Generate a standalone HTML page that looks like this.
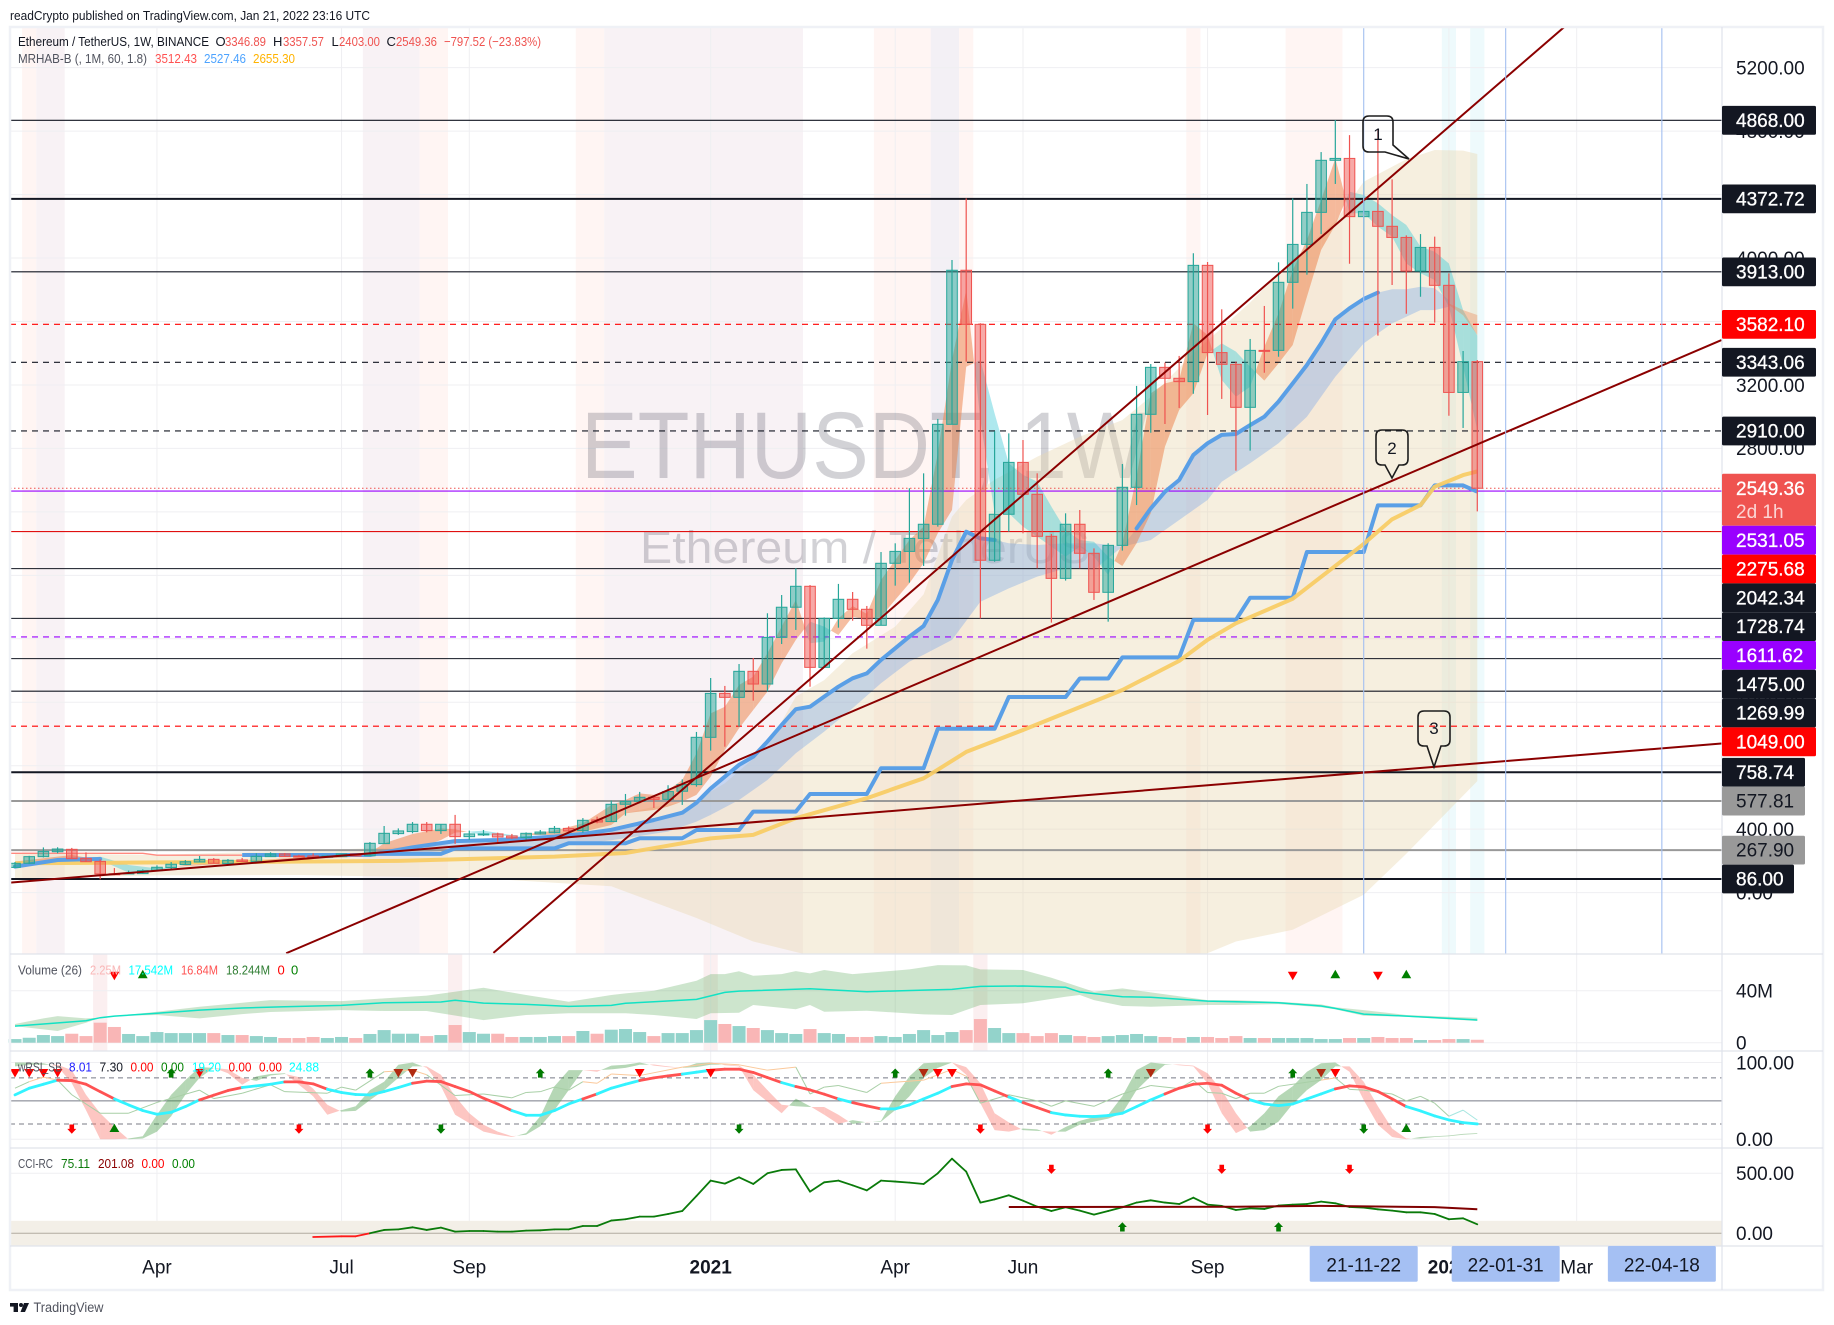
<!DOCTYPE html>
<html lang="en">
<head>
<meta charset="utf-8">
<title>ETHUSDT 1W chart</title>
<style>
html,body{margin:0;padding:0;background:#fff;width:1834px;height:1325px;overflow:hidden}
svg{display:block;font-family:"Liberation Sans",sans-serif}
</style>
</head>
<body>
<svg id="chart" xmlns="http://www.w3.org/2000/svg" width="1834" height="1325" viewBox="0 0 1834 1325">
<defs>
<clipPath id="mainClip"><rect x="10" y="28" width="1712" height="926"/></clipPath>
<clipPath id="paneClip"><rect x="10" y="954" width="1712" height="292"/></clipPath>
</defs>
<rect x="0" y="0" width="1834" height="1325" fill="#ffffff"/>
<text x="10" y="20" font-size="13" fill="#131722" textLength="360" lengthAdjust="spacingAndGlyphs">readCrypto published on TradingView.com, Jan 21, 2022 23:16 UTC</text>

<g id="mainBack" clip-path="url(#mainClip)"></g>
<g id="subBack" clip-path="url(#paneClip)"></g>

<text x="581" y="478" font-size="95" fill="#1c1c32" fill-opacity="0.2" textLength="566" lengthAdjust="spacingAndGlyphs">ETHUSDT, 1W</text>
<text x="640" y="563" font-size="45" fill="#1c1c32" fill-opacity="0.2" textLength="450" lengthAdjust="spacingAndGlyphs">Ethereum / TetherUS</text>

<g id="mainMarks" clip-path="url(#mainClip)"></g>
<g id="volMarks"></g>
<g id="rsiMarks"></g>
<g id="cciMarks"></g>

<g>
<path d="M1369,116 H1387 Q1393,116 1393,122 V145 L1409,159 L1385,152 H1369 Q1363,152 1363,146 V122 Q1363,116 1369,116 Z" fill="none" stroke="#1d1d1d" stroke-width="1.6"/>
<text x="1378" y="140" font-size="17" text-anchor="middle" fill="#131722">1</text>
</g>
<g>
<path d="M1382,430 H1402 Q1408,430 1408,436 V459 Q1408,465 1402,465 H1399 L1392,478 L1385,465 H1382 Q1376,465 1376,459 V436 Q1376,430 1382,430 Z" fill="none" stroke="#1d1d1d" stroke-width="1.6"/>
<text x="1392" y="454" font-size="17" text-anchor="middle" fill="#131722">2</text>
</g>
<g>
<path d="M1424,711 H1444 Q1450,711 1450,717 V740 Q1450,746 1444,746 H1441 L1434,767 L1427,746 H1424 Q1418,746 1418,740 V717 Q1418,711 1424,711 Z" fill="none" stroke="#1d1d1d" stroke-width="1.6"/>
<text x="1434" y="734" font-size="17" text-anchor="middle" fill="#131722">3</text>
</g>

<g id="frame" fill="none">
<rect x="10" y="27" width="1813" height="1263" stroke="#eff1f6" stroke-width="2.5"/>
<line x1="1722" y1="27" x2="1722" y2="1290" stroke="#e0e3eb" stroke-width="1.2"/>
<line x1="10" y1="954" x2="1823" y2="954" stroke="#e0e3eb" stroke-width="1.2"/>
<line x1="10" y1="1051" x2="1823" y2="1051" stroke="#e0e3eb" stroke-width="1.2"/>
<line x1="10" y1="1148" x2="1823" y2="1148" stroke="#e0e3eb" stroke-width="1.2"/>
<line x1="10" y1="1246" x2="1823" y2="1246" stroke="#e0e3eb" stroke-width="1.2"/>
</g>

<g id="axisText"></g>

<g font-size="13">
<text x="18" y="46" fill="#131722" textLength="191" lengthAdjust="spacingAndGlyphs">Ethereum / TetherUS, 1W, BINANCE</text>
<text x="215.5" y="46" fill="#131722">O</text>
<text x="225" y="46" fill="#ef5350" textLength="41" lengthAdjust="spacingAndGlyphs">3346.89</text>
<text x="273" y="46" fill="#131722">H</text>
<text x="283" y="46" fill="#ef5350" textLength="41" lengthAdjust="spacingAndGlyphs">3357.57</text>
<text x="331.5" y="46" fill="#131722">L</text>
<text x="339" y="46" fill="#ef5350" textLength="41" lengthAdjust="spacingAndGlyphs">2403.00</text>
<text x="386.5" y="46" fill="#131722">C</text>
<text x="396" y="46" fill="#ef5350" textLength="41" lengthAdjust="spacingAndGlyphs">2549.36</text>
<text x="444" y="46" fill="#ef5350" textLength="97" lengthAdjust="spacingAndGlyphs">−797.52 (−23.83%)</text>
<text x="18" y="63" fill="#50535e" textLength="129" lengthAdjust="spacingAndGlyphs">MRHAB-B (, 1M, 60, 1.8)</text>
<text x="155" y="63" fill="#ff5252" textLength="42" lengthAdjust="spacingAndGlyphs">3512.43</text>
<text x="204" y="63" fill="#4da3ff" textLength="42" lengthAdjust="spacingAndGlyphs">2527.46</text>
<text x="253" y="63" fill="#ffb300" textLength="42" lengthAdjust="spacingAndGlyphs">2655.30</text>
</g>
<g font-size="13">
<text x="18" y="974.5" fill="#50535e" textLength="64" lengthAdjust="spacingAndGlyphs">Volume (26)</text>
<text x="90" y="974.5" fill="#f9b6b6" textLength="31" lengthAdjust="spacingAndGlyphs">2.25M</text>
<text x="128.5" y="974.5" fill="#00ffff" textLength="44.5" lengthAdjust="spacingAndGlyphs">17.542M</text>
<text x="181" y="974.5" fill="#ff5252" textLength="37" lengthAdjust="spacingAndGlyphs">16.84M</text>
<text x="226" y="974.5" fill="#2e7d32" textLength="44" lengthAdjust="spacingAndGlyphs">18.244M</text>
<text x="277.5" y="974.5" fill="#ff0000">0</text>
<text x="291" y="974.5" fill="#008000">0</text>
</g>
<g font-size="13">
<text x="18" y="1071.5" fill="#50535e" textLength="44" lengthAdjust="spacingAndGlyphs">wRSI_SB</text>
<text x="69" y="1071.5" fill="#2222ff" textLength="23" lengthAdjust="spacingAndGlyphs">8.01</text>
<text x="99.5" y="1071.5" fill="#131722" textLength="23.5" lengthAdjust="spacingAndGlyphs">7.30</text>
<text x="130.5" y="1071.5" fill="#ff0000" textLength="23" lengthAdjust="spacingAndGlyphs">0.00</text>
<text x="161" y="1071.5" fill="#008000" textLength="23" lengthAdjust="spacingAndGlyphs">0.00</text>
<text x="192" y="1071.5" fill="#00ffff" textLength="29" lengthAdjust="spacingAndGlyphs">19.20</text>
<text x="228.5" y="1071.5" fill="#ff0000" textLength="23" lengthAdjust="spacingAndGlyphs">0.00</text>
<text x="259" y="1071.5" fill="#ff0000" textLength="23" lengthAdjust="spacingAndGlyphs">0.00</text>
<text x="289" y="1071.5" fill="#00ffff" textLength="30" lengthAdjust="spacingAndGlyphs">24.88</text>
</g>
<g font-size="13">
<text x="18" y="1168" fill="#50535e" textLength="35" lengthAdjust="spacingAndGlyphs">CCI-RC</text>
<text x="61" y="1168" fill="#0a7a0a" textLength="29" lengthAdjust="spacingAndGlyphs">75.11</text>
<text x="98" y="1168" fill="#8b0000" textLength="36" lengthAdjust="spacingAndGlyphs">201.08</text>
<text x="141.5" y="1168" fill="#ff0000" textLength="23" lengthAdjust="spacingAndGlyphs">0.00</text>
<text x="172" y="1168" fill="#008000" textLength="23" lengthAdjust="spacingAndGlyphs">0.00</text>
</g>

<g>
<rect x="10" y="1303" width="8" height="3.6" fill="#131722"/>
<rect x="13.6" y="1303" width="4.4" height="9" fill="#131722"/>
<circle cx="21" cy="1305" r="2" fill="#131722"/>
<polygon points="24,1303 29,1303 25,1312 20.5,1312" fill="#131722"/>
<text x="33.5" y="1312" font-size="13.5" fill="#50535e" textLength="70" lengthAdjust="spacingAndGlyphs">TradingView</text>
</g>
</svg>

<script>
/* ---------- price data (weekly bars) ---------- */
const opens = [159,185,227,258,273,216,197,119,120,120,139,158,177,193,210,183,206,196,227,244,231,231,223,227,244,233,309,372,385,431,391,431,353,364,370,357,347,370,378,405,391,458,448,
557,576,601,588,639,681,979,1256,1231,1395,1315,1609,1799,1931,1420,1729,1849,1786,1685,2076,2151,2233,2322,2952,3923,3582,2095,2385,2712,2511,2246,1981,2322,2139,1893,2189,2555,3015,3311,3242,3221,3954,3404,3330,
3059,3418,3418,3847,4086,4288,4616,4628,4261,4294,4200,4130,3918,4067,3828,3153,3347];
const highs = [193,232,285,286,282,254,210,155,139,147,172,193,205,231,218,212,219,248,254,250,239,248,235,246,246,319,420,405,445,445,431,490,391,395,378,370,380,395,420,418,470,479,580,
622,635,609,677,714,1013,1353,1303,1441,1479,1761,1876,2044,1939,1735,1946,1895,1807,2147,2202,2549,2643,2986,3988,4376,3589,2908,2895,2853,2643,2261,2391,2412,2170,2202,2702,3194,3332,3341,3383,4030,3975,3677,3347,
3490,3698,3973,4376,4467,4668,4870,4775,4555,4811,4496,4143,4151,4135,3903,3414,3357];
const lows = [157,180,222,248,214,195,84,110,118,118,135,147,175,191,183,179,193,193,225,225,223,219,221,225,229,231,307,364,374,380,370,307,332,357,315,338,332,366,374,385,378,437,445,
485,563,534,584,553,668,895,920,1046,1210,1269,1567,1656,1298,1420,1670,1714,1538,1685,1935,1954,2059,2307,2952,3347,1729,2086,2275,2265,2044,1702,1967,2044,1845,1708,2156,2443,2899,2954,3055,3145,3011,3112,2660,
2786,3277,3378,3681,3895,4151,4467,3964,3916,3511,3830,3649,3756,3593,3006,2929,2403];
const closes = [185,227,260,275,214,195,118,118,124,139,160,179,195,210,185,204,196,229,244,227,227,221,231,244,231,311,374,389,431,391,431,353,370,370,351,345,374,382,405,389,456,445,557,
574,601,588,637,681,979,1256,1231,1395,1315,1609,1799,1931,1420,1729,1849,1786,1685,2076,2151,2233,2322,2952,3923,3582,2095,2385,2712,2511,2246,1981,2322,2139,1893,2189,2555,3015,3311,3242,3221,3954,3404,3330,3059,
3418,3414,3847,4086,4288,4616,4628,4261,4294,4200,4130,3918,4067,3828,3153,3347,2549];

/* ---------- MRHAB ribbons ---------- */
const ribbonBars = [0,4,6,8,10,12,25,26,28,30,31,33,35,38,40,42,43,44,45,46,47,48,49,50,51,52,53,54,55,56,57,58,59,60,61,62,63,64,65,66,67,68,69,70,71,72,73,74,75,76,77,78,79,80,81,82,83,84,85,86,87,88,89,90,91,92,93,94,95,96,97,98,99,100,101,102,103];
const ribbonFast = [196,237,206,126,139,174,252,311,370,405,399,363,357,391,437,552,584,626,616,647,710,878,1130,1172,1309,1362,1509,1677,1845,1572,1582,1729,1807,1757,1971,2097,2223,2307,2769,3357,3799,2979,2391,2391,2307,2244,2181,2118,2181,2118,2002,2202,2622,3147,3210,3231,3589,3515,3231,3126,3189,3441,3651,3924,4114,4366,4628,4282,4282,4198,4135,3966,3904,3862,3693,3315,2916];
const ribbonSlow = [160,206,227,174,153,168,231,237,269,332,378,391,363,363,384,426,500,511,521,542,574,616,731,899,1036,1151,1267,1446,1593,1708,1677,1624,1740,1719,1740,1845,1950,2076,2265,2412,3315,3357,3021,2706,2633,2591,2433,2286,2223,2212,2118,2059,2202,2391,2811,3042,3147,3399,3462,3410,3315,3227,3336,3452,3756,4051,4208,4418,4397,4345,4271,4208,4072,4040,3966,3672,3512];
const fadeBars = [101,102,103];
const fadeUpper = [3714,3672,3641];
const fadeLower = [3704,3640,3515];

const midBars = [0,3,5,6,25,28,31,34,38,40,42,43,45,47,48,49,50,51,52,53,54,55,56,57,58,59,60,61,62,63,64,65,66,67,68,69,70,72,74,76,78,79,80,81,82,83,84,85,86,87,88,89,90,91,92,93,94,95,96,97,98,99,100,101];
const midVals = [164,206,210,212,237,286,325,332,353,370,396,416,458,504,567,657,731,805,857,952,1057,1156,1172,1236,1298,1351,1382,1467,1540,1614,1681,1845,2097,2275,2233,2223,2202,2191,2202,2202,2181,2296,2422,2527,2601,2759,2832,2885,2891,2947,3000,3095,3210,3326,3462,3614,3683,3742,3782,3803,3803,3819,3809,3735];
const midVisibleFrom = [0,25,79];
const midVisibleTo = [6,69,96];
const midLowBars = [25,27,31,38,42,46,48,49,51,53,55,57,59,61,63,64,66,68,70,72,74,76,78,79,80,82,84,85,87,89,91,93,95,97,99,100,101];
const midLowVals = [237,240,270,290,330,385,448,490,584,710,878,1015,1162,1320,1456,1500,1593,1834,1918,1992,2044,2034,2181,2202,2223,2349,2475,2590,2706,2832,3000,3252,3462,3588,3672,3672,3693];

const stepFrom = [16,25,31,39,44,48,52,56,61,65,70,75,78,83,87,91,96,100,103];
const stepTo = [25,30,38,43,47,51,55,60,64,69,74,77,82,86,90,95,99,102,103];
const stepVals = [237,244,279,311,343,395,511,622,784,1033,1233,1350,1483,1719,1859,2147,2441,2567,2527];
const earlyStepFrom = [0,10];
const earlyStepTo = [9,16];
const earlyStepVals = [248,236];

const yellowBars = [0,7,27,38,43,49,52,55,60,64,65,67,71,78,82,84,86,90,95,97,99,100,102,103];
const yellowVals = [185,189,200,227,250,342,364,469,595,721,775,887,1025,1277,1461,1593,1698,1852,2198,2353,2443,2559,2632,2655];

const envTopBars = [0,10,25,31,38,41,43,45,48,50,53,55,57,59,62,64,66,67,69,72,75,78,80,83,86,87,90,93,95,97,98,100,102,103];
const envTopVals = [248,238,279,300,363,458,500,542,584,690,920,1236,1340,1509,1677,1880,2370,2475,2602,2748,2874,2979,3126,3399,3640,3720,3990,4230,4481,4576,4622,4681,4677,4656];
const envLowBars = [0,10,20,27,34,42,48,52,57,83,86,90,95,98,103];
const envLowVals = [90,109,111,100,84,40,-160,-308,-418,-418,-308,-234,-13,245,703];

/* ---------- drawings ---------- */
const trendFromBar = [33.7,19.1,-0.35];
const trendFromPrice = [-380,-382,63];
const trendToBar = [109.2,120.2,120.2];
const trendToPrice = [5462,3483,940];

const levelPrices = [4868,4372.72,3913,3582.10,3343.06,2910,2549.36,2531.05,2275.68,2042.34,1728.74,1611.62,1475,1269.99,1049,758.74,577.81,267.9,86];
const levelKinds = ['k1','k2','k1','rd','kd','kd','pl','pu','rs','k1','k1','pd','k1','k1','rd','k2','g2','g2','k2'];
const priceTicks = [5200,4800,4400,4000,3600,3200,2800,2400,2000,1600,1200,800,400,0];

const stripeFrom = [0.5,1.5,24.5,28.5,39.5,41.5,60.5,64.5,66.5,82.5,89.5,100.5,102.5];
const stripeTo = [1.5,3.5,28.5,30.5,41.5,55.5,64.5,66.5,67.5,83.5,93.5,101.5,103.5];
const stripeKinds = ['p','g','g','p','p','g','p','d','p','p','p','c','c'];
const volStripeBars = [6,31,49,68];

const timeLabels = ['Apr','Jul','Sep','2021','Apr','Jun','Sep','2022','Mar'];
const timeBars = [10,23,32,49,62,71,84,101,110];
const dateTagLabels = ['21-11-22','22-01-31','22-04-18'];
const dateTagBars = [95,105,116];

/* ---------- volume ---------- */
const volumes = [2.8,3.8,5.9,5.1,6.9,5.1,15.4,12.1,6.7,5.1,8.2,7.4,7.4,7.4,7.4,5.9,5.9,5.1,4.4,3.6,3.6,4.4,3.6,4.4,3.6,6.7,9.7,6.9,6.9,5.1,5.9,13.6,8.2,6.9,6.9,4.4,4.4,4.4,5.1,5.1,9,6.9,10,
10.5,8.2,5.1,7.4,7.4,9.7,17.4,14.4,12.8,11.3,9.7,7.4,6.7,10.5,7.4,6.7,4.4,4.4,5.1,4.4,6.7,9.7,5.9,8.2,9.7,18.2,11.3,7.4,7.4,5.1,7.4,5.9,5.1,4.4,5.1,5.9,6.7,5.1,4.4,3.6,4.4,4.4,3.6,5.1,
3.6,3.6,3.6,3.6,3.6,2.8,2.8,3.6,3.6,4.4,3.6,3.6,2.05,2.05,2.8,2.8,2.25];
const volMaBars = [0,2,5,6,7,10,13,16,19,23,26,30,31,33,36,39,42,43,45,48,50,51,56,60,64,66,68,71,74,75,78,80,84,86,89,92,93,95,98,101,103];
const volMaVals = [12.8,14.4,16.9,19.2,20.5,22.6,25.1,26.7,27.7,28.7,30.8,31.3,32.6,30.5,29.5,27.9,28.7,30.3,31.5,33.3,38.7,39.7,41.5,39.2,40.5,41,43.3,43.6,42.6,39,35.4,34.9,32,31.5,30.8,28.2,26.4,22,20.5,18.7,17.5];
const volUpBars = [0,2,3,5,6,7,10,13,16,18,23,26,29,33,36,39,42,43,45,48,49,50,51,52,54,55,56,57,59,63,65,67,68,71,73,74,76,78,80,84,86,89,92,93,95,98,101,103];
const volUpVals = [14.4,18.7,20.5,18.7,19.2,20.5,23.8,27.7,30.8,32.8,32,34.1,36.2,42.3,36.7,31.5,36.7,37.9,40,47.7,52.8,52.8,54.9,51.5,52.8,55.1,53.3,55.9,52.8,56.4,59.7,59.5,56.4,55.9,50,46.4,39.2,41.8,38.7,32.8,32.8,31.5,29.5,27.2,25.1,21.3,20,19.2];
const volLowBars = [0,3,5,6,7,10,13,16,18,23,26,29,33,36,39,42,43,45,48,49,51,52,55,56,57,60,64,66,68,71,74,75,76,78,80,84,86,89,92,93,95,98,101,103];
const volLowVals = [12.8,9,15.4,19.2,20.5,21.3,18.7,22,23.6,25.1,24.4,24.4,17.4,21.3,22.6,22.6,22.6,21.3,18.2,22.6,23.1,29,25.7,29,23.8,24.6,21.8,21.3,29,30.3,35.4,36.7,32.8,28.2,27.7,29,29,29.7,27.2,25.6,20.8,20,17.9,16.7];
const volDownMarkerBars = [7,90,96];
const volUpMarkerBars = [9,93,98];

/* ---------- wRSI ---------- */
const rsiSmooth = [57.8,66.5,71.7,77,76.5,71.7,62,52.6,44.8,37.4,32.6,35.2,42.6,51.3,57.4,63.5,67.4,69.6,71.7,74.8,74.8,72.2,65.2,60.9,58.3,57.8,62.2,67.4,73,75.7,75.2,68.7,62.2,53.5,46,37.4,31.3,31.3,37.4,46,52.6,59.1,66.5,71.7,76.5,80,82.6,84.8,87.4,90,91.3,91.3,87,80.4,73.9,68.7,64.3,58.7,52.6,47.8,43.5,39.6,39.6,44.8,52.6,60,68.7,72.2,70.9,63,55.2,47.8,41.3,34.8,31.7,30,29.6,30.9,33.9,42.6,51.3,59.1,66.5,71.7,73,70.4,60,51.3,46,43.9,46,52.6,59.1,65.7,69.6,68.3,62.2,52.6,42.6,37,30.4,25.2,21.7,20];
const rsiStates = 'cccrrrrccccccrrrcccrrrccccccrrrrrrrcccccrcccrrrccrrrrrcrrrcrrcccccrrrrcrrccccccccrrrrrrccccccrrrrrcccccc';
const rsiFast = [100,100,99,94.8,73,38,0,0,1,4,32,58,77,94,93,86,71,82,85,86,71,56,32,38,43,64,75,97,100,93,69,32,21,10,6,3,8,30,69,90,90,88,96,97,100,96,94,93,99,100,96.5,95,64,49,34,53,43,32,20,25,22,24,56,82,99,100,100,84,47,12,10,14,13,6,16,24,29,32,56,90,100,98,96.5,95,73,34,8,17,34,56,69,88,99,100,88,51,19,3,0,3,4,5,7,8];
const rsiSlow = [95,97,97,97,90,58,34,16,0,1,10,30,58,80,93,91,80,76,83,85,81,66,45,36,37,51,64,80,95,95,84,56,34,19,10,4,6,17,38,64,90,90,91,93,97,97.4,95,93,94,97,97.4,96,84,64,45,43,42,42,32,20,22.6,23,38,56,80,93,100,94,73,34,22,12,11,10,10,19,23,27,34,64,82,97,97.4,96,86,64,34,10,12,23,46,64,77,95,95,75,43,14,1,1,3,4,6,7];
const rsiThinBars = [0,1,2,3,4,6,8,10,13,14,16,18,19,22,23,24,26,28,29,31,33,35,36,37,38,39,40,41,42,44,47,49,51,53,55,56,57,58,60,61,64,66,67,68,70,72,73,74,76,78,80,82,83,84,85,86,87,88,89,92,93,94,95,97,98,99,100,101,102,103];
const rsiThinVals = [66.5,75,81,77,58,34,34,48,64,53,60,71,62,60,68,64,88,90,84,57,59,54,61,62,68,64,75,73,85,83,94,99,97,90,94,59,68,70,61,73,77,91,82,47,58,50,43,50,43,59,70,66,77,61,60,53,60,60,69,77,80,65,64,59,50,56,47,30,38,25];
const rsiTopTriangleBars = [0,1,2,3,13,27,28,44,49,64,65,66,80,92,93];
const rsiTopArrowBars = [11,25,37,62,77,90];
const rsiLowRedArrowBars = [4,20,68,84];
const rsiLowGreenArrowBars = [30,51,95];
const rsiLowTriangleBars = [7,98];
const rsiTicks = [100,0];

/* ---------- CCI ---------- */
const cciBars = [21,23,24,25,26,27,28,29,30,31,32,33,34,35,36,37,38,39,40,41,42,43,44,45,46,47,48,49,50,51,52,53,54,55,56,57,58,59,60,61,62,63,64,65,66,67,68,69,70,71,72,73,74,75,76,77,78,79,80,81,82,83,84,85,86,87,88,89,90,91,92,93,94,95,96,97,98,99,100,101,102,103];
const cciVals = [-31,-25,-25,0,28,33,50,28,47,14,19,19,14,14,22,25,33,33,61,61,106,117,139,139,161,186,311,439,414,467,411,500,528,533,347,425,439,400,358,439,431,422,411,500,622,514,256,283,317,272,222,186,217,189,156,186,217,256,275,256,244,297,239,228,194,208,203,231,239,244,264,250,219,214,200,189,175,175,161,117,125,75];
const cciSignalBars = [70,86,92,100,103];
const cciSignalVals = [219,222,228,218,201];
const cciDownMarkerBars = [73,85,94];
const cciUpMarkerBars = [78,89];
const cciTicks = [500,0];
const volTicks = [40,0];

/* ---------- axis functions ---------- */
function xBar(i){return 15+14.197*i;}
function yPrice(p){return 879-(p-86)*0.15865;}
function yVol(v){return 1042.7-1.3*v;}
function yRsi(v){return 1139.3-0.768*v;}
function yCci(v){return 1233.3-0.12*v;}

const NS='http://www.w3.org/2000/svg';
function svgEl(tag,attrs,parent){
  const e=document.createElementNS(NS,tag);
  for(const k in attrs){e.setAttribute(k,attrs[k]);}
  parent.appendChild(e);
  return e;
}
function pts(bars,vals,yFn){
  return bars.map(function(b,i){return xBar(b).toFixed(1)+','+yFn(vals[i]).toFixed(1);});
}
function closedBand(bA,vA,bB,vB,yFn){
  return pts(bA,vA,yFn).concat(pts(bB,vB,yFn).reverse()).join(' ');
}
function downTriangle(parent,x,y,color){
  return svgEl('polygon',{points:(x-4.9)+','+(y-4.2)+' '+(x+4.9)+','+(y-4.2)+' '+x+','+(y+4.2),fill:color},parent);
}
function upTriangle(parent,x,y,color){
  return svgEl('polygon',{points:(x-4.9)+','+(y+4.2)+' '+(x+4.9)+','+(y+4.2)+' '+x+','+(y-4.2),fill:color},parent);
}
function upArrow(parent,x,y,color){
  return svgEl('polygon',{points:x+','+(y-4.8)+' '+(x+4.5)+','+(y)+' '+(x+2.3)+','+(y)+' '+(x+2.3)+','+(y+4.4)+' '+(x-2.3)+','+(y+4.4)+' '+(x-2.3)+','+(y)+' '+(x-4.5)+','+(y),fill:color},parent);
}
function downArrow(parent,x,y,color){
  return svgEl('polygon',{points:x+','+(y+4.8)+' '+(x+4.5)+','+(y)+' '+(x+2.3)+','+(y)+' '+(x+2.3)+','+(y-4.4)+' '+(x-2.3)+','+(y-4.4)+' '+(x-2.3)+','+(y)+' '+(x-4.5)+','+(y),fill:color},parent);
}
/* fills between two lines with a colour per side, splitting at each crossing */
function twoToneBand(parent,bars,a,b,yFn,colorA,colorB,label){
  for(let i=0;i<bars.length-1;i++){
    const x0=xBar(bars[i]),x1=xBar(bars[i+1]);
    const d0=a[i]-b[i],d1=a[i+1]-b[i+1];
    const ya0=yFn(a[i]),ya1=yFn(a[i+1]),yb0=yFn(b[i]),yb1=yFn(b[i+1]);
    if(d0*d1<0){
      const t=d0/(d0-d1);
      const cx=x0+(x1-x0)*t,cy=ya0+(ya1-ya0)*t;
      const s0=svgEl('polygon',{points:x0+','+ya0+' '+cx+','+cy+' '+x0+','+yb0,fill:d0>0?colorA:colorB},parent);
      
      
      const s1=svgEl('polygon',{points:cx+','+cy+' '+x1+','+ya1+' '+x1+','+yb1,fill:d1>0?colorA:colorB},parent);
      
      
    }else{
      const s=svgEl('polygon',{points:x0+','+ya0+' '+x1+','+ya1+' '+x1+','+yb1+' '+x0+','+yb0,fill:(d0+d1)>=0?colorA:colorB},parent);
      
      
    }
  }
}

/* ---------- background: stripes + grid ---------- */
const mainBack=document.getElementById('mainBack');
const subBack=document.getElementById('subBack');
const stripeColors={p:'#fff5f3',g:'#f8f2f5',d:'#f3f0f5',c:'#eefafc'};
stripeFrom.forEach(function(from,i){
  const s=svgEl('rect',{x:xBar(from),y:28,width:xBar(stripeTo[i])-xBar(from),height:926,fill:stripeColors[stripeKinds[i]]},mainBack);
  
  
});
volStripeBars.forEach(function(b){
  const s=svgEl('rect',{x:xBar(b-0.5),y:954,width:14.197,height:97,fill:'#fbeff0'},subBack);
  
  
});
priceTicks.forEach(function(p){
  const g=svgEl('line',{x1:10,x2:1722,y1:yPrice(p),y2:yPrice(p),stroke:'#efeff2','stroke-width':1},mainBack);
  
  
});
timeBars.forEach(function(b){
  const g=svgEl('line',{x1:xBar(b),x2:xBar(b),y1:28,y2:954,stroke:'#efeff2','stroke-width':1},mainBack);
  
  
  const h=svgEl('line',{x1:xBar(b),x2:xBar(b),y1:954,y2:1246,stroke:'#efeff2','stroke-width':1},subBack);
  
  
});
volTicks.forEach(function(v){
  const g=svgEl('line',{x1:10,x2:1722,y1:yVol(v),y2:yVol(v),stroke:'#efeff2','stroke-width':1},subBack);
  
  
});
rsiTicks.forEach(function(v){
  const g=svgEl('line',{x1:10,x2:1722,y1:yRsi(v),y2:yRsi(v),stroke:'#efeff2','stroke-width':1},subBack);
  
  
});
cciTicks.forEach(function(v){
  const g=svgEl('line',{x1:10,x2:1722,y1:yCci(v),y2:yCci(v),stroke:'#efeff2','stroke-width':1},subBack);
  
  
});
const cciBand=svgEl('rect',{x:10,y:yCci(104),width:1712,height:yCci(-106)-yCci(104),fill:'#f3efe7'},subBack);



/* ---------- main pane ---------- */
const main=document.getElementById('mainMarks');
const envelope=svgEl('polygon',{points:closedBand(envTopBars,envTopVals,envLowBars,envLowVals,yPrice),fill:'rgba(232,214,176,0.4)'},main);



const midRibbonTopBars=midBars.filter(function(b){return b>=25;});
const midRibbonTopVals=midVals.filter(function(v,i){return midBars[i]>=25;});
const midRibbon=svgEl('polygon',{points:closedBand(midRibbonTopBars,midRibbonTopVals,midLowBars,midLowVals,yPrice),fill:'rgba(90,150,235,0.3)'},main);



const ribbonGroup=svgEl('g',{},main);


twoToneBand(ribbonGroup,ribbonBars,ribbonFast,ribbonSlow,yPrice,'rgba(235,130,75,0.52)','rgba(60,200,215,0.42)','momentum-ribbon-segment');
const fadePatch=svgEl('polygon',{points:closedBand(fadeBars,fadeUpper,fadeBars,fadeLower,yPrice),fill:'rgba(235,130,75,0.35)'},main);



/* level lines */
const levelStyles={
  k1:{stroke:'#131722',w:1.1,dash:''},
  k2:{stroke:'#131722',w:2,dash:''},
  kd:{stroke:'#131722',w:1.1,dash:'6 5'},
  rd:{stroke:'#ff0000',w:1.1,dash:'6 5'},
  rs:{stroke:'#e01010',w:1.1,dash:''},
  pu:{stroke:'#9900ff',w:1.1,dash:''},
  pd:{stroke:'#9900ff',w:1.1,dash:'6 5'},
  g2:{stroke:'#999999',w:2,dash:''},
  pl:{stroke:'#ef5350',w:1,dash:'1.5 2.5'}
};
levelPrices.forEach(function(p,i){
  const st=levelStyles[levelKinds[i]];
  const l=svgEl('line',{x1:10,x2:1722,y1:yPrice(p),y2:yPrice(p),stroke:st.stroke,'stroke-width':st.w,'stroke-dasharray':st.dash},main);
  
  
});

/* monthly step line + early red step */
function stepPoints(from,to,vals){
  const out=[];
  vals.forEach(function(v,i){
    out.push(xBar(from[i]).toFixed(1)+','+yPrice(v).toFixed(1));
    out.push(xBar(to[i]).toFixed(1)+','+yPrice(v).toFixed(1));
  });
  return out.join(' ');
}
const earlyStep=svgEl('polyline',{points:'10,'+yPrice(earlyStepVals[0]).toFixed(1)+' '+stepPoints(earlyStepFrom,earlyStepTo,earlyStepVals),fill:'none',stroke:'#ff8a80','stroke-width':1.3},main);


const stepLine=svgEl('polyline',{points:stepPoints(stepFrom,stepTo,stepVals),fill:'none',stroke:'#5a9fe6','stroke-width':4,'stroke-linejoin':'round'},main);



const yellowLine=svgEl('polyline',{points:pts(yellowBars,yellowVals,yPrice).join(' '),fill:'none',stroke:'#f8cc66','stroke-opacity':0.95,'stroke-width':4,'stroke-linejoin':'round'},main);



midVisibleFrom.forEach(function(from,k){
  const to=midVisibleTo[k];
  const segBars=midBars.filter(function(b){return b>=from&&b<=to;});
  const segVals=midVals.filter(function(v,i){return midBars[i]>=from&&midBars[i]<=to;});
  const m=svgEl('polyline',{points:pts(segBars,segVals,yPrice).join(' '),fill:'none',stroke:'#5a9fe6','stroke-width':4,'stroke-linejoin':'round','stroke-linecap':'round'},main);
  
  
});

/* candles */
const candleGroup=svgEl('g',{},main);


closes.forEach(function(c,i){
  const o=opens[i];
  const up=c>=o;
  const stroke=up?'#26a69a':'#ef5350';
  const fill=up?'rgba(38,166,154,0.5)':'rgba(239,83,80,0.5)';
  const x=xBar(i);
  const wick=svgEl('line',{x1:x,x2:x,y1:yPrice(highs[i]),y2:yPrice(lows[i]),stroke:stroke,'stroke-width':1.2},candleGroup);
  
  
  const top=yPrice(Math.max(o,c)),bot=yPrice(Math.min(o,c));
  const body=svgEl('rect',{x:x-5.3,y:top,width:10.6,height:Math.max(bot-top,1),fill:fill,stroke:stroke,'stroke-width':1},candleGroup);
  
  
});

/* trend lines */
trendFromBar.forEach(function(b,i){
  const t=svgEl('line',{x1:xBar(b),y1:yPrice(trendFromPrice[i]),x2:xBar(trendToBar[i]),y2:yPrice(trendToPrice[i]),stroke:'#8b0000','stroke-width':2},main);
  
  
});

/* date lines */
dateTagBars.forEach(function(b){
  const v=svgEl('line',{x1:xBar(b),x2:xBar(b),y1:28,y2:954,stroke:'#a3bff0','stroke-width':1.1},main);
  
  
});

/* ---------- volume pane ---------- */
const volG=document.getElementById('volMarks');
const volBand=svgEl('polygon',{points:closedBand(volUpBars,volUpVals,volLowBars,volLowVals,yVol),fill:'rgba(90,170,90,0.3)'},volG);


volumes.forEach(function(v,i){
  const up=closes[i]>=opens[i];
  const b=svgEl('rect',{x:xBar(i)-6.5,y:yVol(v),width:13,height:yVol(0)-yVol(v),fill:up?'#93d3cb':'#f9b6b6'},volG);
  
  
});
const volMa=svgEl('polyline',{points:pts(volMaBars,volMaVals,yVol).join(' '),fill:'none',stroke:'#12e2c4','stroke-width':1.5},volG);


volDownMarkerBars.forEach(function(b){
  const m=downTriangle(volG,xBar(b),976,'#ff0000');
  
  
});
volUpMarkerBars.forEach(function(b){
  const m=upTriangle(volG,xBar(b),974,'#008000');
  
  
});

/* ---------- wRSI pane ---------- */
const rsiG=document.getElementById('rsiMarks');
const rsi80=svgEl('line',{x1:10,x2:1722,y1:yRsi(80),y2:yRsi(80),stroke:'#787b86','stroke-width':1,'stroke-dasharray':'5 4'},rsiG);


const rsi50=svgEl('line',{x1:10,x2:1722,y1:yRsi(50),y2:yRsi(50),stroke:'#787b86','stroke-width':1},rsiG);


const rsi20=svgEl('line',{x1:10,x2:1722,y1:yRsi(20),y2:yRsi(20),stroke:'#787b86','stroke-width':1,'stroke-dasharray':'5 4'},rsiG);


const rsiRibbon=svgEl('g',{},rsiG);


const barIndex=closes.map(function(c,i){return i;});
twoToneBand(rsiRibbon,barIndex,rsiFast,rsiSlow,yRsi,'rgba(60,150,60,0.38)','rgba(250,120,110,0.42)','wrsi-ribbon-segment');
for(let i=0;i<rsiThinBars.length-1;i++){
  const hot=rsiThinVals[i]>70&&rsiThinVals[i+1]>70;
  const cold=rsiThinVals[i]<40&&rsiThinVals[i+1]<40&&rsiThinBars[i]>95;
  const t=svgEl('line',{x1:xBar(rsiThinBars[i]),y1:yRsi(rsiThinVals[i]),x2:xBar(rsiThinBars[i+1]),y2:yRsi(rsiThinVals[i+1]),stroke:hot?'#fbc99b':(cold?'#a6e6e0':'#a8cfa6'),'stroke-width':1},rsiG);
  
  
}
for(let i=0;i<rsiSmooth.length-1;i++){
  const s=svgEl('line',{x1:xBar(i),y1:yRsi(rsiSmooth[i]),x2:xBar(i+1),y2:yRsi(rsiSmooth[i+1]),stroke:rsiStates[i]==='c'?'#33f3ff':'#ff5252','stroke-width':2.8,'stroke-linecap':'round'},rsiG);
  
  
}
rsiTopTriangleBars.forEach(function(b){
  const m=downTriangle(rsiG,xBar(b),yRsi(86),(b===27||b===28||b===64||b===80||b===92)?'#b02a10':'#ff0000');
  
  
});
rsiTopArrowBars.forEach(function(b){
  const m=upArrow(rsiG,xBar(b),yRsi(86),'#007a00');
  
  
});
rsiLowRedArrowBars.forEach(function(b){
  const m=downArrow(rsiG,xBar(b),yRsi(13.5),'#ff0000');
  
  
});
rsiLowGreenArrowBars.forEach(function(b){
  const m=downArrow(rsiG,xBar(b),yRsi(13.5),'#007a00');
  
  
});
rsiLowTriangleBars.forEach(function(b){
  const m=upTriangle(rsiG,xBar(b),yRsi(15),'#007a00');
  
  
});

/* ---------- CCI pane ---------- */
const cciG=document.getElementById('cciMarks');
const cciZero=svgEl('line',{x1:10,x2:1722,y1:yCci(0),y2:yCci(0),stroke:'#b2aca0','stroke-width':1},cciG);


for(let i=0;i<cciBars.length-1;i++){
  const s=svgEl('line',{x1:xBar(cciBars[i]),y1:yCci(cciVals[i]),x2:xBar(cciBars[i+1]),y2:yCci(cciVals[i+1]),stroke:cciVals[i+1]<=0?'#ff1a1a':'#0a7a0a','stroke-width':1.8,'stroke-linecap':'round'},cciG);
  
  
}
const cciSignal=svgEl('polyline',{points:pts(cciSignalBars,cciSignalVals,yCci).join(' '),fill:'none',stroke:'#800000','stroke-width':2},cciG);


cciDownMarkerBars.forEach(function(b){
  const m=downArrow(cciG,xBar(b),yCci(535),'#ff0000');
  
  
});
cciUpMarkerBars.forEach(function(b){
  const m=upArrow(cciG,xBar(b),yCci(52),'#007a00');
  
  
});

/* ---------- axes ---------- */
const ax=document.getElementById('axisText');
function axisLabel(x,y,txt,anchor,weight,fill){
  return svgEl('text',{x:x,y:y+6.8,'font-size':19,'text-anchor':anchor||'start','font-weight':weight||'normal',fill:fill||'#131722'},ax);
}
priceTicks.forEach(function(p){
  const t=axisLabel(1736,yPrice(p),'', 'start');
  t.textContent=p.toFixed(2);
  
  
});
/* stacked level tags, pushed down when they collide */
const tagFills={k1:'#131722',k2:'#131722',kd:'#131722',rd:'#ff0000',rs:'#ff0000',pu:'#9900ff',pd:'#9900ff',g2:'#999999',pl:'#ef5350'};
let tagCursor=-1000;
levelPrices.forEach(function(p,i){
  const kind=levelKinds[i];
  const label=p.toFixed(2);
  const h=kind==='pl'?52:28.8;
  const top=Math.max(yPrice(p)-14.4,tagCursor);
  tagCursor=top+h;
  const w=11*label.length+17;
  const r=svgEl('rect',{x:1722,y:top,width:w,height:h,rx:1.5,fill:tagFills[kind]},ax);
  
  
  const tx=svgEl('text',{x:1736,y:top+21,'font-size':19,fill:kind==='g2'?'#131722':'#ffffff',stroke:kind==='g2'?'none':'#ffffff','stroke-width':0.3},ax);
  tx.textContent=label;
  
  
  if(kind==='pl'){
    const cd=svgEl('text',{x:1736,y:top+44,'font-size':19,fill:'#fbd5d4'},ax);
    cd.textContent='2d 1h';
    
    
  }
});
volTicks.forEach(function(v){
  const t=axisLabel(1736,yVol(v),'','start');
  t.textContent=v===0?'0':v+'M';
  
  
});
rsiTicks.forEach(function(v){
  const t=axisLabel(1736,yRsi(v),'','start');
  t.textContent=v.toFixed(2);
  
  
});
cciTicks.forEach(function(v){
  const t=axisLabel(1736,yCci(v),'','start');
  t.textContent=v.toFixed(2);
  
  
});
timeLabels.forEach(function(lbl,i){
  const t=axisLabel(xBar(timeBars[i]),1266.5,'','middle',/^\d/.test(lbl)?'bold':'normal');
  t.textContent=lbl;
  
  
});
dateTagBars.forEach(function(b,i){
  const r=svgEl('rect',{x:xBar(b)-54,y:1246,width:108,height:35.7,rx:1.5,fill:'#a5c0f3'},ax);
  
  
  const t=axisLabel(xBar(b),1264.5,'','middle');
  t.textContent=dateTagLabels[i];
  
  
});
</script>
</body>
</html>
